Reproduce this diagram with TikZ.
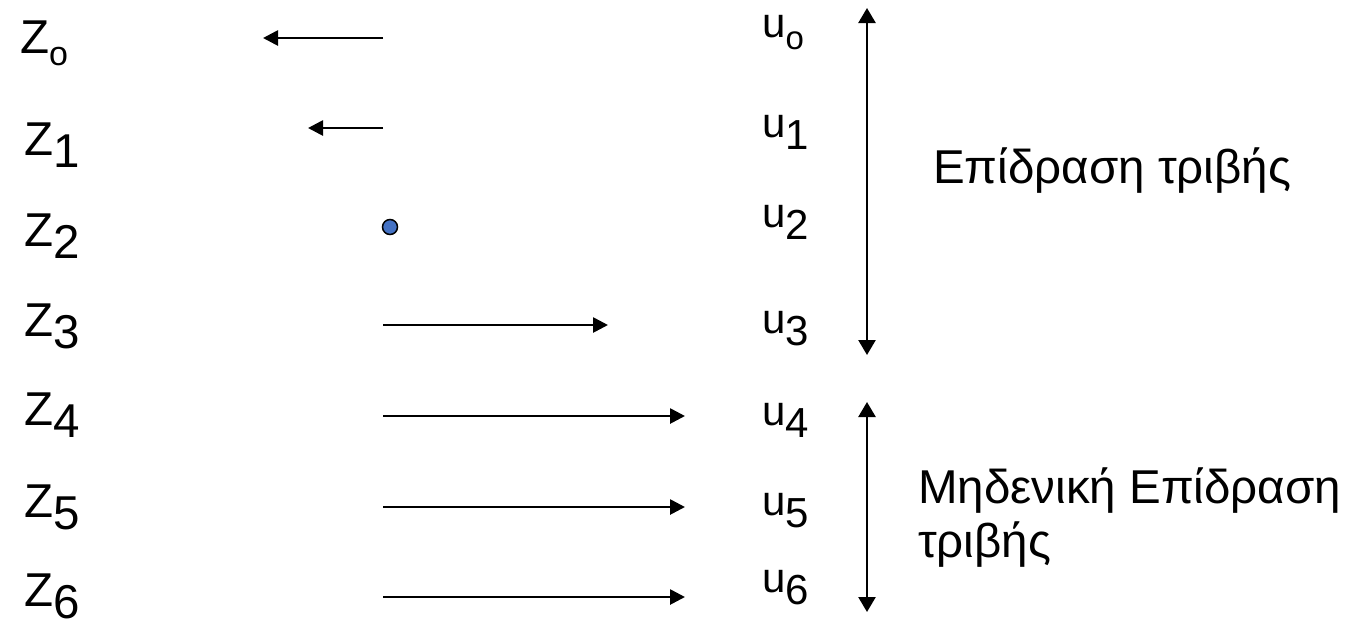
\documentclass[tikz,border=0pt]{standalone}
\usepackage{fontspec}
\setmainfont{Liberation Sans}
\usetikzlibrary{arrows.meta}
\definecolor{dotblue}{HTML}{4472C4}
% letter with a lowered index; the index keeps the letter's size unless given
\newcommand{\lbl}[3][]{#2\raisebox{-12pt}{#1#3}}
\begin{document}
\begin{tikzpicture}[x=1pt,y=-1pt,
  zlab/.style={anchor=base west,inner sep=0pt,font=\fontsize{47.5}{54}\selectfont},
  ulab/.style={anchor=base west,inner sep=0pt,font=\fontsize{42}{50}\selectfont},
  txt/.style={anchor=base west,inner sep=0pt,font=\fontsize{47.5}{54}\selectfont},
  vec/.style={line width=2.7pt,-{Triangle[length=15pt,width=15pt]}},
  span/.style={line width=2.5pt,{Triangle[length=15pt,width=17pt]}-{Triangle[length=15pt,width=17pt]}}]
\useasboundingbox (0,0) rectangle (1350,622);
% depth labels on the left
\node[zlab] (z0) at (20,53)  {\lbl[\fontsize{34}{34}\selectfont]{Z}{o}};
\node[zlab] (z1) at (24,155) {\lbl{Z}{1}};
\node[zlab] (z2) at (24,246) {\lbl{Z}{2}};
\node[zlab] (z3) at (24,336) {\lbl{Z}{3}};
\node[zlab] (z4) at (24,425) {\lbl{Z}{4}};
\node[zlab] (z5) at (24,517) {\lbl{Z}{5}};
\node[zlab] (z6) at (24,606) {\lbl{Z}{6}};
% velocity labels
\node[ulab] (u0) at (762,37)  {\lbl[\fontsize{33}{33}\selectfont]{u}{o}};
\node[ulab] (u1) at (762,137) {\lbl{u}{1}};
\node[ulab] (u2) at (762,227) {\lbl{u}{2}};
\node[ulab] (u3) at (762,333) {\lbl{u}{3}};
\node[ulab] (u4) at (762,425) {\lbl{u}{4}};
\node[ulab] (u5) at (762,515) {\lbl{u}{5}};
\node[ulab] (u6) at (762,592) {\lbl{u}{6}};
% velocity vectors
\coordinate (t0) at (383,38);  \coordinate (h0) at (263,38);
\coordinate (t1) at (383,128); \coordinate (h1) at (308,128);
\coordinate (t3) at (383,325); \coordinate (h3) at (608,325);
\coordinate (t4) at (383,416); \coordinate (h4) at (685,416);
\coordinate (t5) at (383,507); \coordinate (h5) at (685,507);
\coordinate (t6) at (383,597); \coordinate (h6) at (685,597);
\draw[vec] (t0) -- (h0);
\draw[vec] (t1) -- (h1);
\draw[vec] (t3) -- (h3);
\draw[vec] (t4) -- (h4);
\draw[vec] (t5) -- (h5);
\draw[vec] (t6) -- (h6);
% zero velocity point
\node[circle,draw=black,line width=1.5pt,fill=dotblue,minimum size=15pt,inner sep=0pt] (d2) at (390,227) {};
% zone markers
\coordinate (a1) at (867,8);   \coordinate (b1) at (867,355);
\coordinate (a2) at (867,402); \coordinate (b2) at (867,612);
\draw[span] (a1) -- (b1);
\draw[span] (a2) -- (b2);
% zone descriptions
\node[txt] (eff) at (933,183) {Επίδραση τριβής};
\node[txt] (noeff) at (918,503) {Μηδενική Επίδραση};
\node[txt] (noeff2) at (918,557) {τριβής};
\end{tikzpicture}
\end{document}
